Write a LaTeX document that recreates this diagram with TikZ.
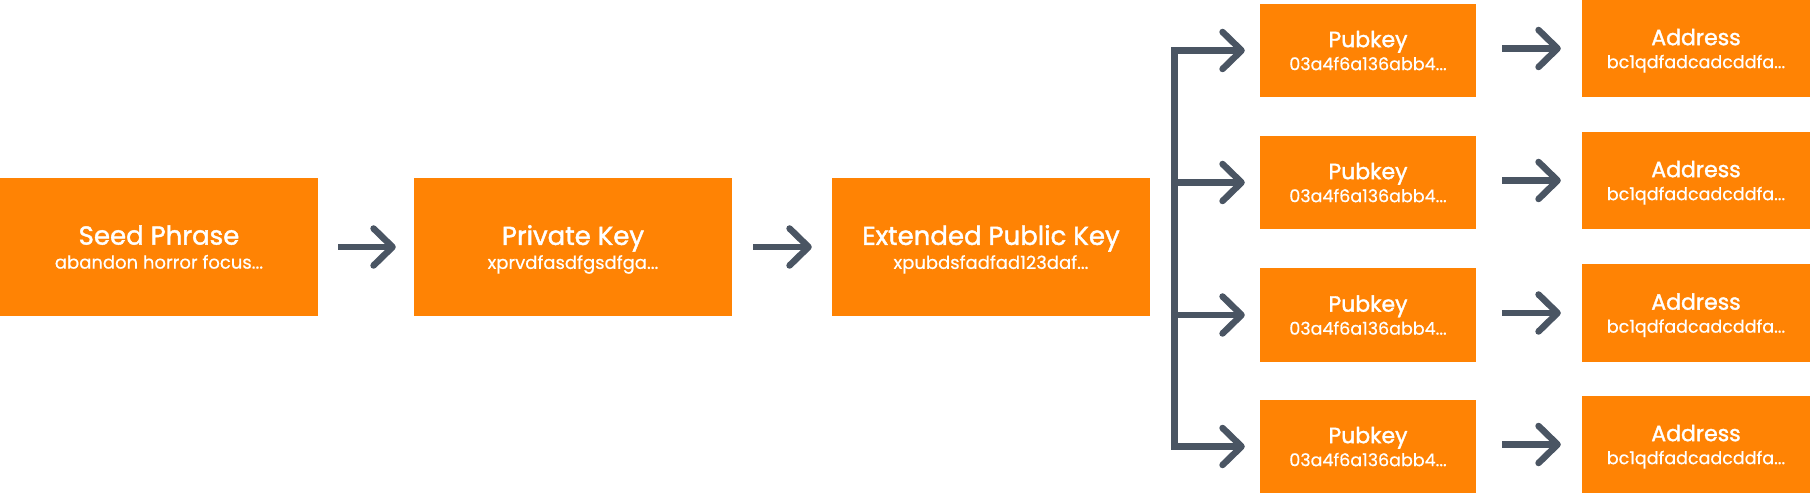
\documentclass[tikz,border=0pt]{standalone}
\usepackage{fontspec}
\setmainfont{Poppins}[FakeBold=0.6]
\newfontfamily\headfont[FakeBold=1.6]{Poppins}
\usetikzlibrary{arrows.meta}
\definecolor{keyorange}{HTML}{FF8304}
\definecolor{arrowgray}{HTML}{4A5563}
\newcommand{\keylabel}[3]{{\headfont #1}\\{\fontsize{#3}{24}\selectfont\smash{#2}}}

\tikzset{
	keybarb/.tip={Straight Barb[length=19pt,width=37pt,line cap=round,line join=round]},
	keybox/.style={fill=keyorange, text=white, align=center, inner sep=0pt,
		minimum width=318pt, minimum height=138pt, font=\fontsize{26}{24}\selectfont},
	pubbox/.style={keybox, minimum width=216pt, minimum height=93pt,
		font=\fontsize{22}{23}\selectfont},
	addrbox/.style={pubbox, minimum width=228pt, minimum height=97pt},
	flow/.style={draw=arrowgray, line width=6.5pt, -keybarb},
}

\begin{document}
\begin{tikzpicture}[x=1pt,y=-1pt]
		\useasboundingbox (0,0) rectangle (1810,494);
		\begin{scope}
			\node[keybox] (seed) at (159,247) {\keylabel{Seed Phrase}{abandon horror focus...}{18}};
			\node[keybox] (priv) at (573,247) {\keylabel{Private Key}{xprvdfasdfgsdfga...}{18}};
			\node[keybox] (xpub) at (991,247) {\keylabel{Extended Public Key}{xpubdsfadfad123daf...}{18}};
			\coordinate (bus) at (1174.5,247);

			\draw[flow, shorten <=20pt, shorten >=18pt] (seed) to (priv);
			\draw[flow, shorten <=21pt, shorten >=20pt] (priv) to (xpub);
		\end{scope}
		\begin{scope}
			\foreach \y [count=\i] in {50.5,182.5,315,446.5} {
				\node[pubbox] (pub\i) at (1368,\y) {\keylabel{Pubkey}{03a4f6a136abb4...}{17.5}};
				\node[addrbox] (addr\i) at (1696,\y-2) {\keylabel{Address}{bc1qdfadcadcddfa...}{17.5}};
				\draw[flow, shorten <=26pt, shorten >=21pt] (pub\i.east |- addr\i) to (addr\i.west);
			}
			\draw[flow, keybarb-keybarb, shorten <=15pt, shorten >=15pt] (pub1) -| (bus) |- (pub4);
			\foreach \i in {2,3}
				\draw[flow, shorten >=15pt] (bus |- pub\i) to (pub\i);
		\end{scope}
	\end{tikzpicture}
\end{document}
